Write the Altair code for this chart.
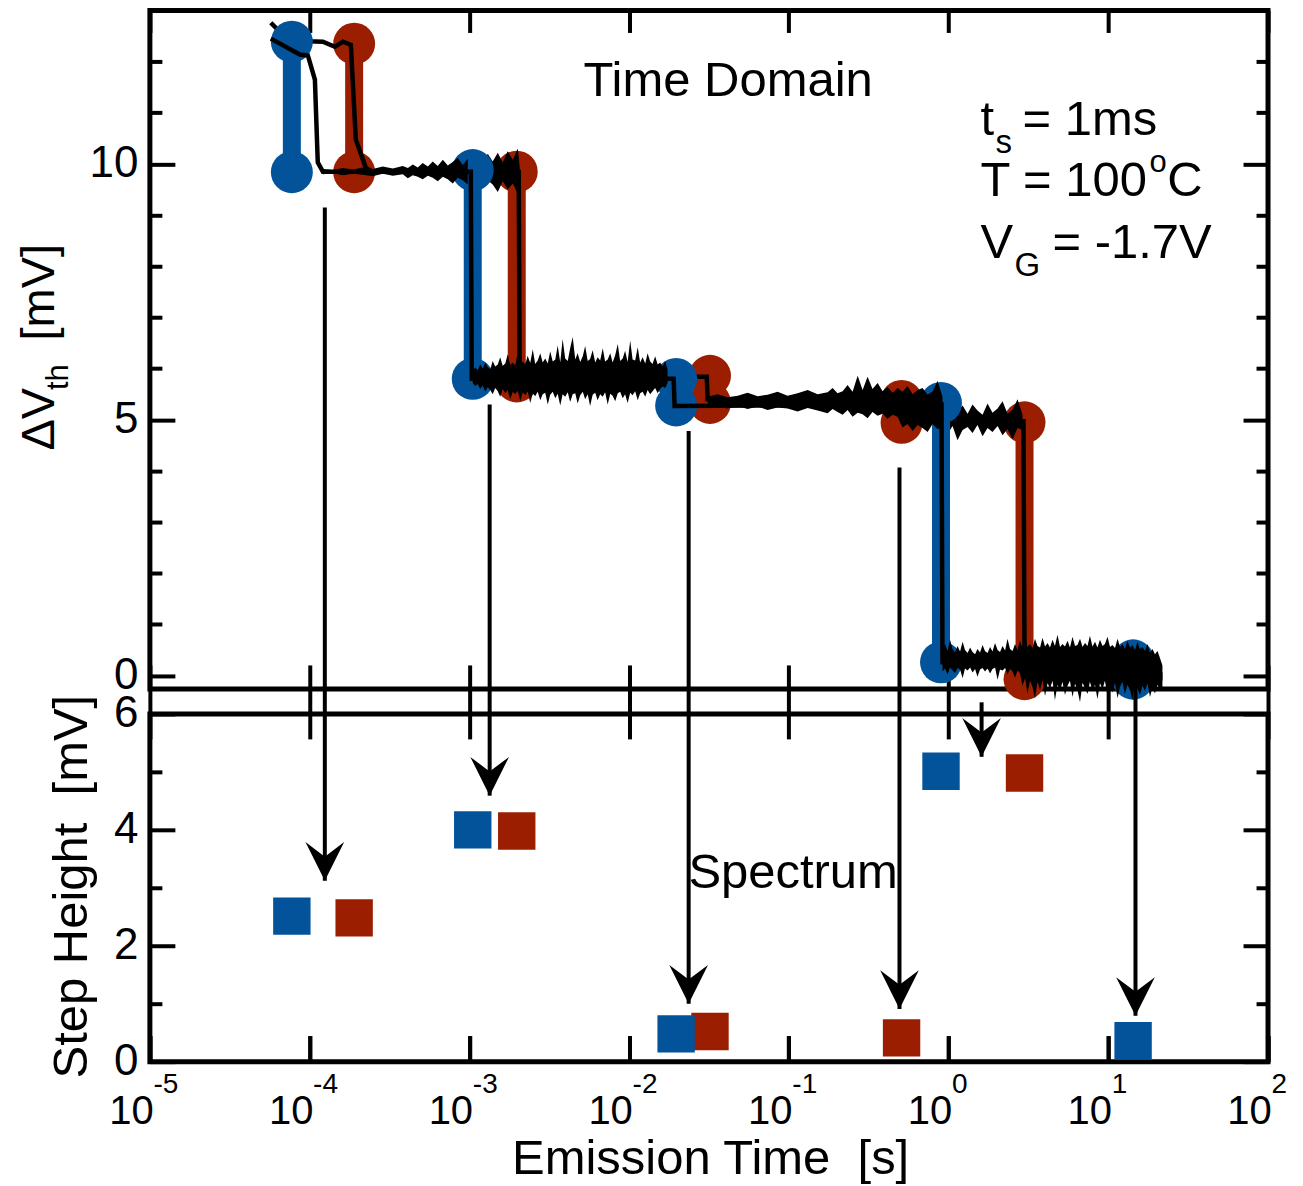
import altair as alt
import pandas as pd

FONT = "Liberation Sans"
BLUE = "#03539B"
RED = "#9B1E00"

# ---------------- tick positions ----------------
DECADES = [1e-5, 1e-4, 1e-3, 1e-2, 1e-1, 1e0, 1e1, 1e2]
TOP_MAJOR = [0, 5, 10]
TOP_MINOR = [1, 2, 3, 4, 6, 7, 8, 9, 11, 12]
BOT_MAJOR = [0, 2, 4, 6]
BOT_MINOR = [1, 3, 5]

# ---------------- top panel: discrete steps (emission time [s], dVth [mV]) ----------------
blue_t = [7.74e-5, 1.05e-3, 0.0197, 0.897, 14.3]
blue_hi = [12.39, 9.88, 5.80, 5.33, 0.30]
blue_lo = [9.84, 5.80, 5.28, 0.26, -0.06]
red_t = [1.90e-4, 1.98e-3, 0.0321, 0.508, 2.99]
red_hi = [12.35, 9.85, 5.86, 5.37, 4.95]
red_lo = [9.84, 5.75, 5.33, 4.94, -0.07]

# ---------------- bottom panel: step heights [mV] ----------------
blue_h = [2.51, 4.00, 0.48, 5.01, 0.36]
red_h = [2.48, 3.98, 0.52, 0.41, 4.98]

# ---------------- measured traces: log10(t / s), dVth [mV] ----------------
traceA_logt = [-4.243, -4.061, -4.011, -3.967, -3.949, -3.917, -2.991, -2.985, -1.721,
               -1.715, -0.044, -0.038, 1.151, 1.157, 1.339]
traceA_v = [12.45, 12.14, 12.12, 11.65, 10.03, 9.85, 9.85, 5.80, 5.80,
            5.27, 5.30, 0.26, 0.26, -0.05, -0.05]
traceB_logt = [-4.243, -4.199, -4.011, -3.917, -3.842, -3.792, -3.742, -3.711, -3.667,
               -3.648, -3.605, -2.691, -2.685, -1.514, -1.508, -0.294, -0.288, 0.469,
               0.476, 1.339]
traceB_v = [12.76, 12.62, 12.40, 12.39, 12.29, 12.39, 12.33, 10.48, 10.09,
            9.92, 9.85, 9.85, 5.84, 5.84, 5.40, 5.40, 4.97, 4.97,
            0.02, 0.02]

# noise envelopes of the traces (log10 t, upper / lower mV)
n1a_logt = [-3.917, -3.855, -3.792, -3.730, -3.667, -3.605, -3.542, -3.479, -3.417, -3.385,
            -3.354, -3.323, -3.292, -3.260, -3.229, -3.198, -3.166, -3.135, -3.104, -3.073,
            -3.041, -3.010]
n1a_hi = [9.90, 9.88, 9.92, 9.89, 9.93, 9.90, 9.95, 9.91, 9.96, 9.92,
          9.99, 9.93, 10.02, 9.95, 10.05, 9.96, 10.08, 9.97, 10.04, 10.12,
          9.98, 10.10]
n1a_lo = [9.80, 9.82, 9.78, 9.81, 9.79, 9.76, 9.81, 9.77, 9.80, 9.72,
          9.78, 9.75, 9.70, 9.77, 9.73, 9.66, 9.75, 9.70, 9.62, 9.73,
          9.68, 9.60]
n1b_logt = [-2.979, -2.947, -2.916, -2.885, -2.854, -2.822, -2.791, -2.760, -2.728, -2.697, -2.685]
n1b_hi = [10.02, 10.15, 10.00, 10.20, 10.05, 10.22, 10.03, 10.25, 10.08, 10.30, 9.95]
n1b_lo = [9.66, 9.72, 9.52, 9.68, 9.60, 9.45, 9.66, 9.50, 9.62, 9.42, 9.75]

n2_logt = [-2.979, -2.963, -2.948, -2.932, -2.916, -2.901, -2.885, -2.869, -2.854, -2.838,
           -2.822, -2.807, -2.791, -2.775, -2.760, -2.744, -2.728, -2.713, -2.697, -2.681,
           -2.666, -2.650, -2.635, -2.619, -2.603, -2.588, -2.572, -2.556, -2.541, -2.525,
           -2.509, -2.494, -2.478, -2.462, -2.447, -2.431, -2.416, -2.400, -2.384, -2.369,
           -2.353, -2.337, -2.322, -2.306, -2.290, -2.275, -2.259, -2.244, -2.228, -2.212,
           -2.197, -2.181, -2.165, -2.150, -2.134, -2.118, -2.103, -2.087, -2.071, -2.056,
           -2.040, -2.025, -2.009, -1.993, -1.978, -1.962, -1.946, -1.931, -1.915, -1.899,
           -1.884, -1.868, -1.853, -1.837, -1.821, -1.806, -1.790, -1.774, -1.759]
n2_hi = [5.95, 6.02, 5.97, 6.08, 6.00, 6.12, 6.03, 5.99, 6.15, 6.04,
         6.08, 6.22, 6.05, 6.10, 6.28, 6.07, 6.12, 6.06, 6.32, 6.10,
         6.14, 6.08, 6.25, 6.11, 6.38, 6.09, 6.16, 6.30, 6.12, 6.20,
         6.10, 6.34, 6.14, 6.18, 6.45, 6.12, 6.58, 6.20, 6.15, 6.40,
         6.62, 6.18, 6.30, 6.13, 6.24, 6.44, 6.15, 6.19, 6.36, 6.12,
         6.22, 6.16, 6.40, 6.14, 6.18, 6.30, 6.12, 6.26, 6.48, 6.15,
         6.20, 6.35, 6.13, 6.55, 6.18, 6.16, 6.42, 6.12, 6.22, 6.10,
         6.30, 6.14, 6.09, 6.24, 6.08, 6.12, 6.04, 6.15, 5.98]
n2_lo = [5.72, 5.66, 5.70, 5.60, 5.67, 5.55, 5.64, 5.58, 5.50, 5.62,
         5.56, 5.45, 5.60, 5.52, 5.58, 5.40, 5.55, 5.50, 5.57, 5.36,
         5.54, 5.48, 5.56, 5.33, 5.52, 5.46, 5.55, 5.38, 5.50, 5.53,
         5.30, 5.49, 5.55, 5.42, 5.51, 5.28, 5.50, 5.45, 5.54, 5.35,
         5.50, 5.52, 5.32, 5.48, 5.55, 5.40, 5.50, 5.27, 5.49, 5.53,
         5.38, 5.50, 5.45, 5.54, 5.30, 5.51, 5.47, 5.36, 5.52, 5.55,
         5.42, 5.50, 5.33, 5.53, 5.48, 5.56, 5.38, 5.52, 5.55, 5.45,
         5.58, 5.50, 5.56, 5.62, 5.52, 5.60, 5.65, 5.62, 5.72]

n3_logt = [-1.508, -1.446, -1.383, -1.320, -1.258, -1.195, -1.133, -1.070, -1.008, -0.945,
           -0.882, -0.820, -0.757, -0.726, -0.695, -0.663, -0.632, -0.601, -0.569, -0.538,
           -0.507, -0.476, -0.444, -0.413, -0.382, -0.350, -0.319, -0.288, -0.257, -0.225,
           -0.194, -0.163, -0.131, -0.100, -0.069, -0.038]
n3_hi = [5.45, 5.50, 5.44, 5.47, 5.53, 5.46, 5.49, 5.55, 5.47, 5.52,
         5.58, 5.50, 5.54, 5.62, 5.52, 5.56, 5.68, 5.55, 5.86, 5.58,
         5.84, 5.60, 5.72, 5.56, 5.64, 5.53, 5.62, 5.55, 5.66, 5.50,
         5.58, 5.62, 5.49, 5.56, 5.76, 5.45]
n3_lo = [5.28, 5.25, 5.22, 5.27, 5.21, 5.26, 5.19, 5.24, 5.22, 5.16,
         5.23, 5.18, 5.13, 5.21, 5.15, 5.10, 5.19, 5.06, 5.14, 5.11,
         5.03, 5.15, 5.08, 5.12, 5.02, 5.10, 5.06, 4.85, 4.92, 4.78,
         4.90, 4.84, 4.76, 4.92, 4.82, 4.85]

n4_logt = [-0.038, -0.006, 0.025, 0.056, 0.088, 0.119, 0.150, 0.181, 0.213, 0.244,
           0.275, 0.307, 0.338, 0.369, 0.401, 0.432, 0.463]
n4_hi = [5.20, 5.35, 5.10, 5.16, 5.28, 5.12, 5.30, 5.18, 5.10, 5.32,
         5.14, 5.22, 5.36, 5.12, 5.20, 5.40, 5.10]
n4_lo = [4.85, 4.72, 4.88, 4.60, 4.80, 4.86, 4.74, 4.90, 4.68, 4.84,
         4.76, 4.88, 4.70, 4.82, 4.62, 4.84, 4.80]

n5_logt = [-0.038, -0.022, -0.006, 0.009, 0.025, 0.041, 0.056, 0.072, 0.088, 0.103,
           0.119, 0.135, 0.150, 0.166, 0.181, 0.197, 0.213, 0.228, 0.244, 0.260,
           0.275, 0.291, 0.307, 0.322, 0.338, 0.354, 0.369, 0.385, 0.401, 0.416,
           0.432, 0.447, 0.463, 0.479, 0.494, 0.510, 0.526, 0.541, 0.557, 0.573,
           0.588, 0.604, 0.620, 0.635, 0.651, 0.666, 0.682, 0.698, 0.713, 0.729,
           0.745, 0.760, 0.776, 0.792, 0.807, 0.823, 0.839, 0.854, 0.870, 0.885,
           0.901, 0.917, 0.932, 0.948, 0.964, 0.979, 0.995, 1.011, 1.026, 1.042,
           1.058, 1.073, 1.089, 1.104, 1.120, 1.136, 1.151, 1.167, 1.183, 1.198,
           1.214, 1.230, 1.245, 1.261, 1.277, 1.292, 1.308, 1.323, 1.339]
n5_hi = [0.50, 0.62, 0.48, 0.70, 0.52, 0.45, 0.58, 0.47, 0.66, 0.50,
         0.44, 0.55, 0.46, 0.42, 0.52, 0.45, 0.60, 0.48, 0.44, 0.56,
         0.47, 0.64, 0.50, 0.46, 0.58, 0.49, 0.72, 0.52, 0.48, 0.62,
         0.50, 0.68, 0.55, 0.78, 0.56, 0.62, 0.54, 0.72, 0.58, 0.55,
         0.74, 0.57, 0.64, 0.55, 0.70, 0.58, 0.80, 0.56, 0.62, 0.57,
         0.68, 0.55, 0.76, 0.58, 0.60, 0.72, 0.56, 0.64, 0.58, 0.78,
         0.57, 0.66, 0.55, 0.70, 0.58, 0.62, 0.76, 0.56, 0.60, 0.54,
         0.72, 0.56, 0.62, 0.52, 0.68, 0.55, 0.60, 0.50, 0.66, 0.52,
         0.56, 0.48, 0.62, 0.45, 0.52, 0.42, 0.48, 0.35, 0.20]
n5_lo = [0.08, 0.14, 0.02, 0.16, 0.10, 0.05, 0.15, 0.12, -0.05, 0.14,
         0.10, 0.16, 0.06, 0.13, -0.02, 0.12, 0.15, 0.08, 0.14, 0.04,
         0.13, 0.16, -0.08, 0.12, 0.10, 0.15, 0.02, 0.13, 0.08, -0.04,
         0.10, 0.05, -0.20, -0.05, -0.35, -0.10, -0.22, -0.45, -0.12, -0.28,
         -0.08, -0.40, -0.15, -0.25, -0.10, -0.48, -0.18, -0.30, -0.12, -0.38,
         -0.20, -0.10, -0.42, -0.16, -0.28, -0.52, -0.14, -0.24, -0.36, -0.12,
         -0.30, -0.18, -0.46, -0.15, -0.26, -0.10, -0.40, -0.20, -0.33, -0.14,
         -0.44, -0.22, -0.12, -0.36, -0.18, -0.28, -0.48, -0.16, -0.25, -0.38,
         -0.20, -0.30, -0.15, -0.42, -0.22, -0.35, -0.18, -0.28, -0.30]

# ---------------- arrows from the time-domain steps to the spectrum ----------------
arrow_t = [1.245e-4, 1.34e-3, 0.0236, 0.493, 1.61, 14.8]
arrow_from_top = [9.15, 5.30, 4.78, 4.07, None, -0.10]   # dVth [mV]
arrow_from_bot = [6.0, 6.0, 6.0, 6.0, 6.2, 6.0]          # step height [mV]
arrow_tip = [3.12, 4.59, 1.00, 0.91, 5.26, 0.79]         # step height [mV]

# ---------------- annotation text ----------------
ann_text = ["t", "s", "= 1ms", "T = 100", "o", "C", "V", "G", "= -1.7V"]
ann_t = [1.585, 1.968, 2.904, 1.585, 18.1, 23.4, 1.585, 2.588, 4.477]
ann_v = [10.56, 10.22, 10.56, 9.38, 9.85, 9.38, 8.17, 7.82, 8.17]
ann_fs = [49, 33, 49, 49, 31, 49, 49, 33, 49]

# ======================================================================
W, H_TOP, H_BOT = 1119, 679, 348
xs = alt.Scale(type="log", domain=[1e-5, 1e2], nice=False)
ys_top = alt.Scale(domain=[-0.26, 13.0], nice=False, zero=False)
ys_bot = alt.Scale(domain=[0, 6], nice=False, zero=False)


def ticks_axis(orient, values, inward, outward=0):
    return alt.Axis(orient=orient, values=values, offset=-inward, tickSize=inward + outward,
                    tickWidth=4, tickColor="black", domain=False, grid=False,
                    labels=False, title=None)


def ylab_axis(values):
    return alt.Axis(orient="left", values=values, offset=-25, tickSize=25, tickWidth=4,
                    tickColor="black", domain=False, grid=False, labelFontSize=44,
                    labelPadding=12, labelColor="black", labelFont=FONT, title=None,
                    labelFlush=False, labelOverlap=False)


def pts(t, hi, lo):
    return pd.DataFrame({"t": list(t) + list(t), "v": list(hi) + list(lo)})


def steps(t, hi, lo):
    return pd.DataFrame({"t": t, "hi": hi, "lo": lo})


def trace(logt, v):
    return pd.DataFrame({"t": [10 ** x for x in logt], "v": v, "i": list(range(len(v)))})


def band(parts):
    frames = []
    for k, (logt, hi, lo) in enumerate(parts):
        frames.append(pd.DataFrame({"t": [10 ** x for x in logt], "hi": hi, "lo": lo, "seg": k}))
    return pd.concat(frames, ignore_index=True)


def X(ax=None):
    return alt.X("t:Q", scale=xs, axis=ax)


CIRCLE = 1764   # 42 px diameter
# ---------------- top panel layers ----------------
red_bar = alt.Chart(steps(red_t, red_hi, red_lo)).mark_rule(
    color=RED, strokeWidth=18, strokeCap="butt").encode(
    x=X(ticks_axis("top", DECADES, 22)),
    y=alt.Y("hi:Q", scale=ys_top, axis=ylab_axis(TOP_MAJOR)), y2="lo:Q")
red_circ = alt.Chart(pts(red_t, red_hi, red_lo)).mark_circle(
    color=RED, size=CIRCLE, opacity=1).encode(
    x=X(ticks_axis("bottom", DECADES, 24)),
    y=alt.Y("v:Q", scale=ys_top, axis=ticks_axis("left", TOP_MINOR, 12)))
noiseB = alt.Chart(band([(n1b_logt, n1b_hi, n1b_lo), (n4_logt, n4_hi, n4_lo)])).mark_area(
    color="black", opacity=1).encode(
    x=X(), y=alt.Y("hi:Q", scale=ys_top, axis=ticks_axis("right", TOP_MAJOR, 25)),
    y2="lo:Q", detail="seg:N")
lineB = alt.Chart(trace(traceB_logt, traceB_v)).mark_line(color="black", strokeWidth=4.5).encode(
    x=X(), y=alt.Y("v:Q", scale=ys_top, axis=ticks_axis("right", TOP_MINOR, 12)), order="i:Q")
blue_bar = alt.Chart(steps(blue_t, blue_hi, blue_lo)).mark_rule(
    color=BLUE, strokeWidth=18, strokeCap="butt").encode(
    x=X(), y=alt.Y("hi:Q", scale=ys_top, axis=None), y2="lo:Q")
blue_circ = alt.Chart(pts(blue_t, blue_hi, blue_lo)).mark_circle(
    color=BLUE, size=CIRCLE, opacity=1).encode(
    x=X(), y=alt.Y("v:Q", scale=ys_top, axis=None))
noiseA = alt.Chart(band([(n1a_logt, n1a_hi, n1a_lo), (n2_logt, n2_hi, n2_lo),
                         (n3_logt, n3_hi, n3_lo), (n5_logt, n5_hi, n5_lo)])).mark_area(
    color="black", opacity=1).encode(
    x=X(), y=alt.Y("hi:Q", scale=ys_top, axis=None), y2="lo:Q", detail="seg:N")
lineA = alt.Chart(trace(traceA_logt, traceA_v)).mark_line(color="black", strokeWidth=4.5).encode(
    x=X(), y=alt.Y("v:Q", scale=ys_top, axis=None), order="i:Q")

arrows_df = pd.DataFrame({"t": arrow_t, "top": arrow_from_top, "bot": arrow_from_bot,
                          "tip": arrow_tip})
arrow_top = alt.Chart(arrows_df[arrows_df["top"].notna()]).mark_rule(
    color="black", strokeWidth=4).encode(
    x=X(), y=alt.Y("top:Q", scale=ys_top, axis=None), y2=alt.datum(-0.75))

ann_df = pd.DataFrame({"text": ann_text, "t": ann_t, "v": ann_v, "fs": ann_fs})
ann = alt.Chart(ann_df).mark_text(align="left", baseline="alphabetic", color="black",
                                  font=FONT).encode(
    x=X(), y=alt.Y("v:Q", scale=ys_top, axis=None), text="text:N",
    size=alt.Size("fs:Q", scale=None))
time_dom = alt.Chart(pd.DataFrame({"text": ["Time Domain"], "t": [0.0417], "v": [11.32]})).mark_text(
    align="center", baseline="alphabetic", fontSize=49, color="black", font=FONT).encode(
    x=X(), y=alt.Y("v:Q", scale=ys_top, axis=None), text="text:N")

ytitle_big = alt.Chart(pd.DataFrame({"text": ["\u0394V", "[mV]"], "v": [4.40, 6.55]})).mark_text(
    align="left", baseline="alphabetic", angle=270, fontSize=47, color="black", font=FONT).encode(
    x=alt.value(-96), y=alt.Y("v:Q", scale=ys_top, axis=None), text="text:N")
ytitle_sub = alt.Chart(pd.DataFrame({"text": ["th"], "v": [5.58]})).mark_text(
    align="left", baseline="alphabetic", angle=270, fontSize=31, color="black", font=FONT).encode(
    x=alt.value(-82), y=alt.Y("v:Q", scale=ys_top, axis=None), text="text:N")

top = alt.layer(red_bar, red_circ, noiseB, lineB, blue_bar, blue_circ, noiseA, lineA,
                arrow_top, ann, time_dom, ytitle_big, ytitle_sub).resolve_axis(
    x="independent", y="independent").properties(width=W, height=H_TOP)

# ---------------- bottom panel layers ----------------
x_main_axis = alt.Axis(orient="bottom", values=DECADES, offset=-26, tickSize=26, tickWidth=4,
                       tickColor="black", domain=False, grid=False, labelExpr="'10'",
                       labelFontSize=40, labelPadding=30, labelOffset=-19, labelFlush=False,
                       labelOverlap=False, labelColor="black", labelFont=FONT, title=None)
x_exp_axis = alt.Axis(orient="bottom", values=DECADES, offset=-26, tickSize=26, tickWidth=4,
                      tickColor="black", domain=False, grid=False,
                      labelExpr="'' + round(log(datum.value) / LN10)",
                      labelFontSize=28, labelPadding=9, labelAlign="left", labelOffset=3,
                      labelFlush=False, labelOverlap=False, labelColor="black", labelFont=FONT,
                      title=None)

red_sq = alt.Chart(pd.DataFrame({"t": red_t, "h": red_h})).mark_square(
    color=RED, size=1400, opacity=1).encode(
    x=X(x_main_axis), y=alt.Y("h:Q", scale=ys_bot, axis=ylab_axis(BOT_MAJOR)))
blue_sq = alt.Chart(pd.DataFrame({"t": blue_t, "h": blue_h})).mark_square(
    color=BLUE, size=1400, opacity=1).encode(
    x=X(x_exp_axis), y=alt.Y("h:Q", scale=ys_bot, axis=ticks_axis("left", BOT_MINOR, 12)))
arrow_bot = alt.Chart(arrows_df).mark_rule(color="black", strokeWidth=4).encode(
    x=X(ticks_axis("top", DECADES, 25, 25)),
    y=alt.Y("bot:Q", scale=ys_bot, axis=ticks_axis("right", BOT_MAJOR, 25)),
    y2=alt.Y2("tip:Q"))
arrow_head = alt.Chart(arrows_df).mark_point(
    shape="M0,0L-1,-2L0,-1.25L1,-2Z", size=1500, filled=True, color="black", opacity=1,
    strokeWidth=0).encode(
    x=X(), y=alt.Y("tip:Q", scale=ys_bot, axis=ticks_axis("right", BOT_MINOR, 12)))
spectrum = alt.Chart(pd.DataFrame({"text": ["Spectrum"], "t": [0.1064], "h": [3.0]})).mark_text(
    align="center", baseline="alphabetic", fontSize=49, color="black", font=FONT).encode(
    x=X(), y=alt.Y("h:Q", scale=ys_bot, axis=None), text="text:N")
ytitle_bot = alt.Chart(pd.DataFrame({"text": ["Step Height\u00a0\u00a0[mV]"], "h": [3.02]})).mark_text(
    align="center", baseline="alphabetic", angle=270, fontSize=49, color="black", font=FONT).encode(
    x=alt.value(-63), y=alt.Y("h:Q", scale=ys_bot, axis=None), text="text:N")
xtitle = alt.Chart(pd.DataFrame({"text": ["Emission Time\u00a0\u00a0[s]"], "t": [0.0324]})).mark_text(
    align="center", baseline="alphabetic", fontSize=49, color="black", font=FONT).encode(
    x=X(), y=alt.value(460), text="text:N")

bottom = alt.layer(red_sq, blue_sq, arrow_bot, arrow_head, spectrum, ytitle_bot, xtitle).resolve_axis(
    x="independent", y="independent").properties(width=W, height=H_BOT)

chart = alt.vconcat(top, bottom, spacing=25, bounds="flush").properties(
    padding={"left": 5, "top": -3, "right": 5, "bottom": 5}
).configure(font=FONT).configure_view(stroke="black", strokeWidth=5)

chart.save("out.html", embed_options={"renderer": "svg", "actions": False})
